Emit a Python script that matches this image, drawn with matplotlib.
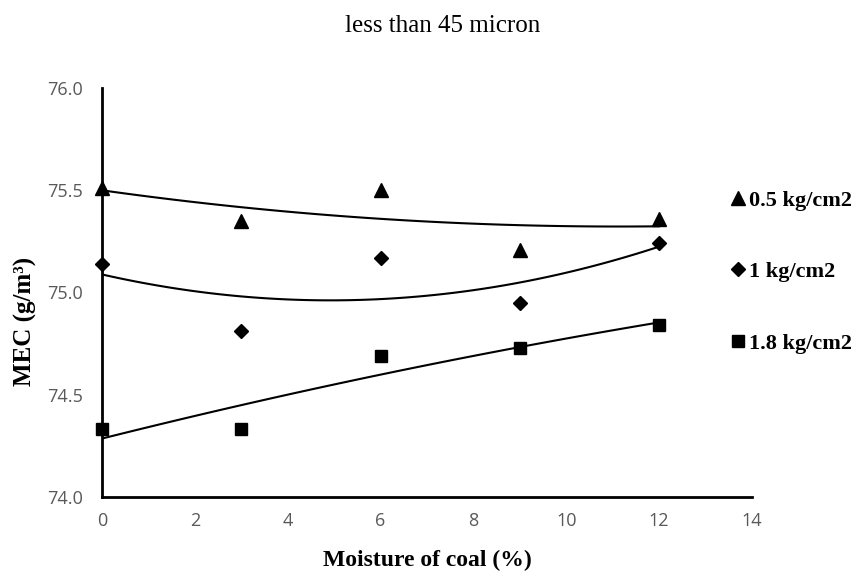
import matplotlib.pyplot as plt
import numpy as np

# moisture of coal (%)
moisture = [0, 3, 6, 9, 12]

# MEC values (g/m3) per compaction pressure
mec_05 = [75.51, 75.35, 75.50, 75.21, 75.36]
mec_1 = [75.14, 74.81, 75.17, 74.95, 75.24]
mec_18 = [74.33, 74.33, 74.69, 74.73, 74.84]

labels = ['0.5 kg/cm2', '1 kg/cm2', '1.8 kg/cm2']
markers = ['^', 'D', 's']
sizes = [9.5, 7, 9]

fig = plt.figure(figsize=(8.6, 5.76), dpi=100)
ax = fig.add_axes([0.1186, 0.1372, 0.7558, 0.710])

xs = np.linspace(0, 12, 100)
for ys, lab, m, s in zip([mec_05, mec_1, mec_18], labels, markers, sizes):
    ax.plot(moisture, ys, m, color='black', ms=s, label=lab, clip_on=False, zorder=3)
    # excel style 2nd order polynomial trendline
    p = np.polyfit(moisture, ys, 2)
    ax.plot(xs, np.polyval(p, xs), color='black', lw=1.5, zorder=2)

ax.set_xlim(0, 14)
ax.set_ylim(74.0, 76.0)
ax.set_xticks(range(0, 15, 2))
ax.set_yticks([74.0, 74.5, 75.0, 75.5, 76.0])
ax.set_yticklabels(['74.0', '74.5', '75.0', '75.5', '76.0'])
ax.tick_params(length=0, labelsize=13, labelcolor='#595959')
ax.tick_params(axis='y', pad=14)
ax.tick_params(axis='x', pad=11)
for lbl in ax.get_xticklabels() + ax.get_yticklabels():
    lbl.set_family('Open Sans')

ax.spines['top'].set_visible(False)
ax.spines['right'].set_visible(False)
ax.spines['left'].set_linewidth(2)
ax.spines['bottom'].set_linewidth(2)

ax.set_xlabel('Moisture of coal (%)', family='Liberation Serif', fontweight='bold',
              fontsize=17, labelpad=14)
ax.set_ylabel('MEC (g/m³)', family='Liberation Serif', fontweight='bold', fontsize=18)
ax.yaxis.set_label_coords(-0.1, 0.43)
fig.text(0.515, 0.955, 'less than 45 micron', family='Liberation Serif',
         fontsize=18, ha='center', va='center')

fig.legend(loc='center left', bbox_to_anchor=(0.8477, 0.5278), frameon=False,
           borderpad=0, borderaxespad=0, handletextpad=0.1, labelspacing=2.29,
           handlelength=0.8,
           prop={'family': 'Liberation Serif', 'weight': 'bold', 'size': 16})

plt.savefig('out.png', dpi=100)
